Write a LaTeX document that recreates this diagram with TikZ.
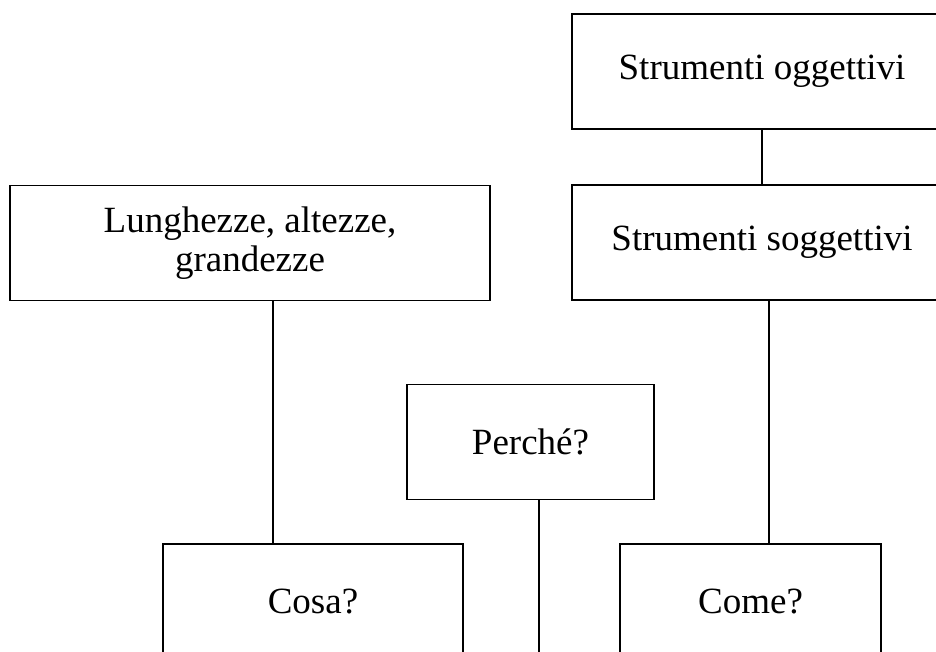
\documentclass[tikz,border=0pt]{standalone}
\usepackage{fontspec}
\setmainfont{Liberation Serif}
\usepackage{tikz}
\usetikzlibrary{calc}
\newcommand{\boxheight}{57.5pt}
\tikzset{
    box/.style={draw, thick, rectangle, align=center, inner sep=0pt,
        minimum height=\boxheight, font=\fontsize{18.5}{19.5}\selectfont},
    link/.style={semithick}
}
\begin{document}
\begin{tikzpicture}[x=0.5pt, y=-0.5pt]
      \clip (0,0) rectangle (936,652);

      \node[box, minimum width=190pt] (ogg) at (762,71.5) {Strumenti oggettivi};
      \node[box, minimum width=190pt] (sog) at (762,242.5) {Strumenti soggettivi};
      \node[box, minimum width=240pt] (lun) at (250,243) {Lunghezze, altezze,\\grandezze};
      \node[box, minimum width=123.5pt] (per) at (530.5,442) {Perché?};
      \node[box, minimum width=150pt] (cos) at (313,601.5) {Cosa?};
      \node[box, minimum width=130.5pt] (com) at (750.5,601.5) {Come?};
      \coordinate (per-end) at (539,660);

      \draw[link] (ogg) -- (sog);
      \draw[link] ([xshift=11.5pt]lun.south) -- ([xshift=-20pt]cos.north);
      \draw[link] ([xshift=3.5pt]sog.south) -- ([xshift=9.25pt]com.north);
      \draw[link] ([xshift=4.25pt]per.south) -- (per-end);
    \end{tikzpicture}
\end{document}
